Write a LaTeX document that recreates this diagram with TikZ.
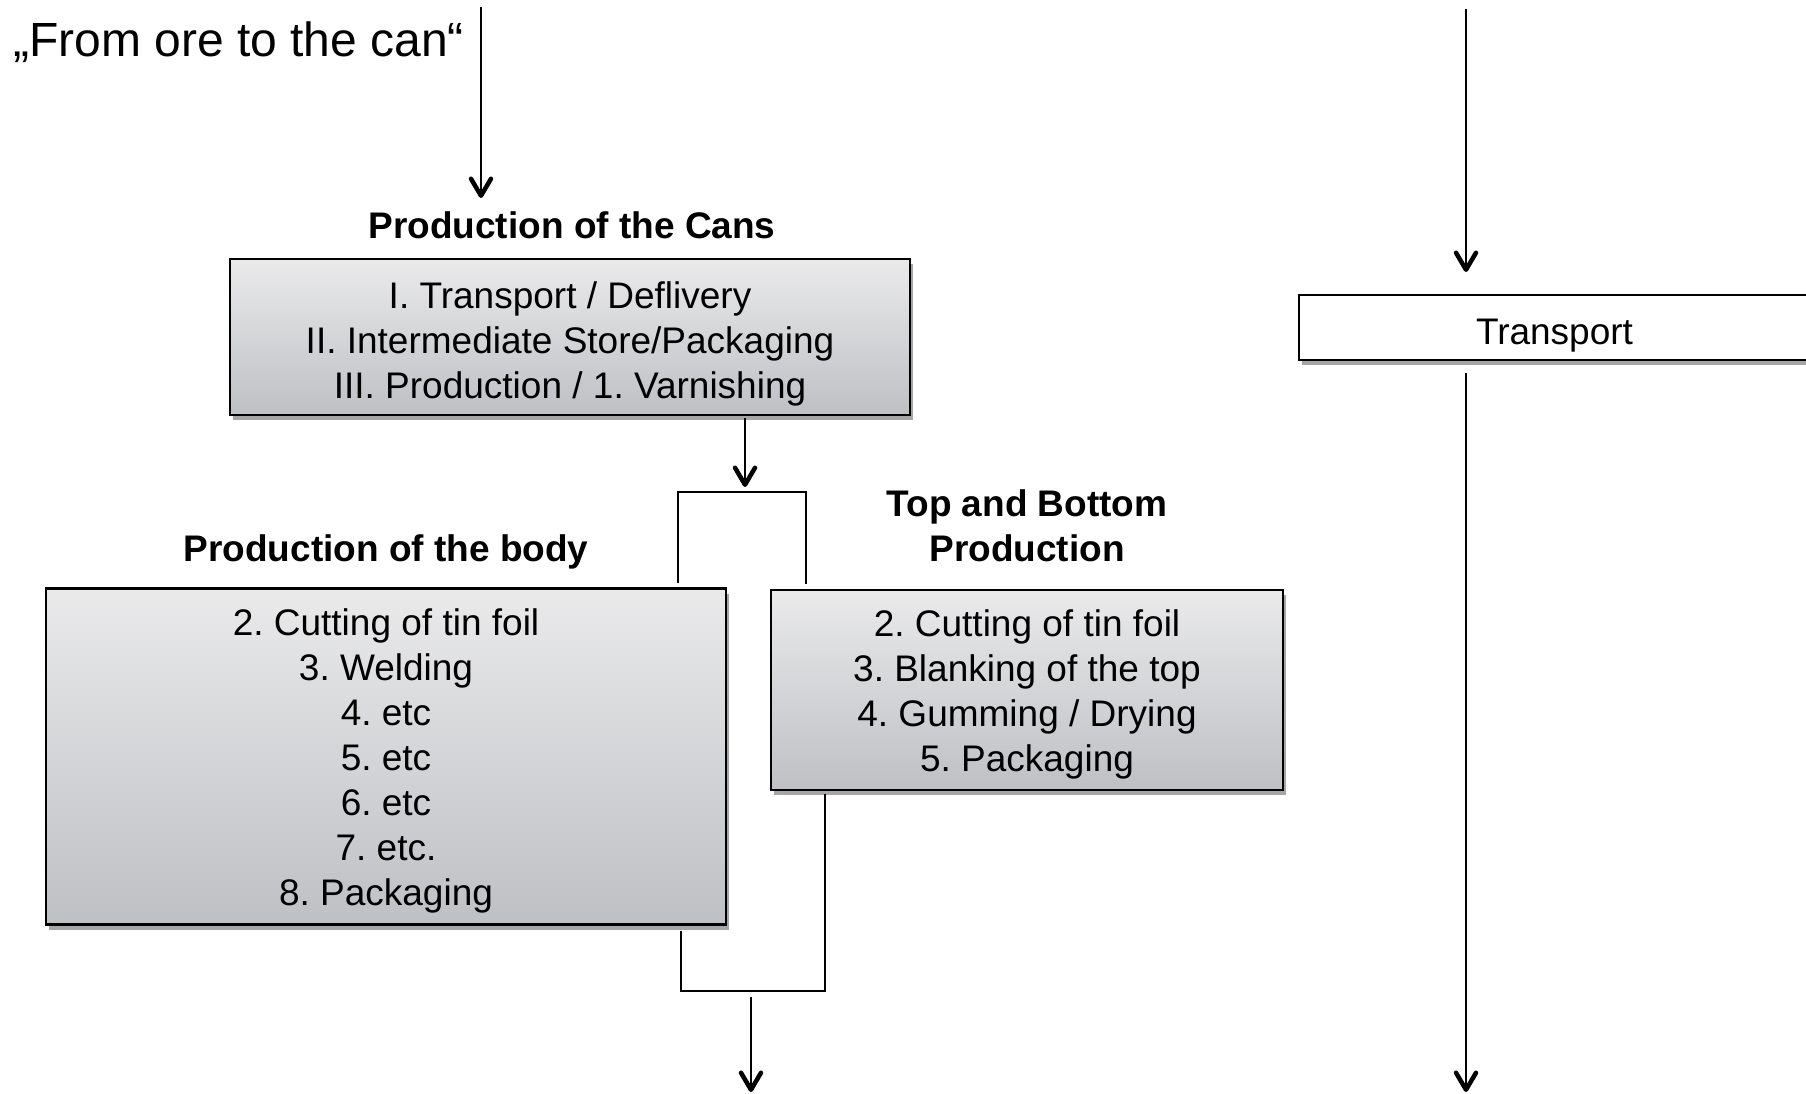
\documentclass[tikz,border=0pt]{standalone}
\usepackage{fontspec}
\setmainfont{Liberation Sans}
\usetikzlibrary{arrows.meta,shadows}
\definecolor{boxtop}{RGB}{234,234,235}
\definecolor{boxbot}{RGB}{190,192,196}
\frenchspacing
\newcommand\liftto[1]{\rule{0pt}{#1}}
\begin{document}
\begin{tikzpicture}[x=1pt,y=-1pt,
  conn/.style={line width=2.7pt},
  arr/.style={conn,-{Straight Barb[length=17pt,width=20pt,line width=4.5pt,round]}},
  shad/.style={drop shadow={shadow xshift=3pt,shadow yshift=-5pt,fill=black,opacity=.35}},
  procbox/.style={draw=black,line width=2.2pt,top color=boxtop,bottom color=boxbot,shad,
    align=center,inner sep=0pt,font=\fontsize{37}{45}\selectfont},
  plainbox/.style={draw=black,line width=2.2pt,fill=white,shad,
    align=center,inner sep=0pt,font=\fontsize{37}{45}\selectfont},
  hdr/.style={align=center,inner sep=0pt,font=\fontsize{37}{45}\selectfont\bfseries},
  ttl/.style={inner sep=0pt,font=\fontsize{48}{57}\selectfont}]
\useasboundingbox (0,0) rectangle (1806,1094);

% title
\node[ttl,anchor=west] (title) at (13,42) {„From ore to the can“};

% first arrow
\coordinate (a1s) at (481,7);
\coordinate (a1e) at (481,198);
\draw[arr] (a1s) -- (a1e);

% production of the cans
\node[hdr] (hcans) at (572,225) {Production of the Cans};
\node[procbox,minimum width=680pt,minimum height=156pt] (cans) at (570,337)
  {\liftto{41pt}I. Transport / Deflivery\\II. Intermediate Store/Packaging\\III. Production / 1. Varnishing};

\coordinate (a2e) at (745,487);
\draw[arr] ([yshift=-2pt]cans.south -| a2e) -- (a2e);

% headers and boxes
\node[hdr] (hbody) at (386,552) {Production of the body};
\node[procbox,minimum width=680pt,minimum height=336pt] (body) at (386,756.5)
  {\liftto{36pt}2. Cutting of tin foil\\3. Welding\\4. etc\\5. etc\\6. etc\\7. etc.\\8. Packaging};

\node[hdr] (htb) at (1027,526) {Top and Bottom\\Production};
\node[procbox,minimum width=512pt,minimum height=200pt] (tb) at (1027,690)
  {\liftto{36pt}2. Cutting of tin foil\\3. Blanking of the top\\4. Gumming / Drying\\5. Packaging};

% top bracket
\coordinate (tbl) at (678,492);
\coordinate (tbr) at (806,492);
\draw[conn] ([yshift=4pt]body.north -| tbl) -- (tbl) -- (tbr) -- ([yshift=5pt]tb.north -| tbr);

% bottom bracket
\coordinate (bbl) at (681,991);
\coordinate (bbr) at (825,991);
\draw[conn] ([yshift=-5pt]body.south -| bbl) -- (bbl) -- (bbr) -- ([yshift=-3pt]tb.south -| bbr);

\coordinate (a3s) at (751,997);
\coordinate (a3e) at (751,1092);
\draw[arr] (a3s) -- (a3e);

% transport column
\node[plainbox,minimum width=511pt,minimum height=65pt] (trans) at (1554.5,327.5) {\liftto{41pt}Transport};
\coordinate (a4s) at (1466,9);
\coordinate (a4e) at (1466,272);
\draw[arr] (a4s) -- (a4e);
\coordinate (a5e) at (1466,1092);
\draw[arr] ([yshift=-12pt]trans.south -| a5e) -- (a5e);
\end{tikzpicture}
\end{document}
